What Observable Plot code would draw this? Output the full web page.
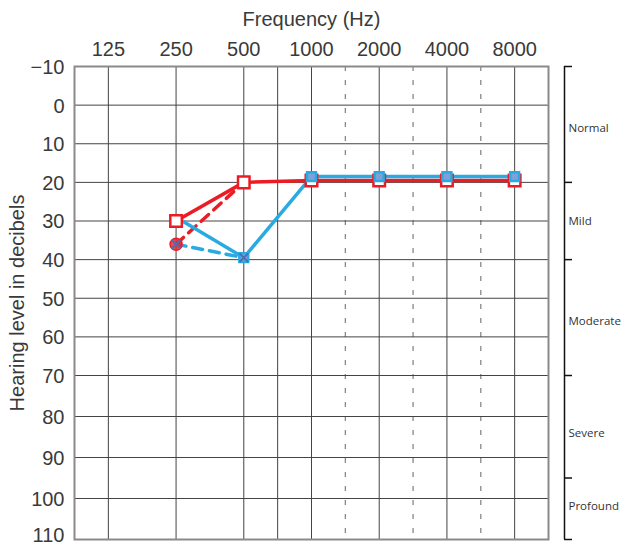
<!DOCTYPE html>
<html><head><meta charset="utf-8">
<script src="https://cdn.jsdelivr.net/npm/d3@7"></script>
<script src="https://cdn.jsdelivr.net/npm/@observablehq/plot@0.6"></script>
<style>body{margin:0;background:#fff}</style>
</head><body><div id="chart"></div>
<script>
// ---- data ----
const octaveFreqs = [125, 250, 500, 1000, 2000, 4000, 8000];
const solidGridFreqs = [125, 250, 500, 750, 1000, 2000, 4000, 8000];
const dashedGridFreqs = [1500, 3000, 6000];
const levelTicks = [-10, 0, 10, 20, 30, 40, 50, 60, 70, 80, 90, 100, 110];

const redSolidFreq = [250, 500, 1000, 2000, 4000, 8000];
const redSolidDb   = [30, 20, 19.5, 19.5, 19.5, 19.5];
const redDashedFreq = [250, 500];
const redDashedDb   = [36, 20];
const blueSolidFreq = [250, 500, 1000, 2000, 4000, 8000];
const blueSolidDb   = [29, 39.5, 18.5, 18.5, 18.5, 18.5];
const blueDashedFreq = [250, 500];
const blueDashedDb   = [36, 39.5];

const bandBounds   = [-10, 20, 40, 70, 95, 110];
const bandNames    = ["Normal", "Mild", "Moderate", "Severe", "Profound"];
const bandLabelDb  = [6, 30, 56, 84, 102];

// ---- helpers ----
const RED = "#ec1c24", BLUE = "#29abe2", XBLUE = "#4a6fb5";
const pos = f => Math.round(2 * Math.log2(f / 125)) / 2; // audiogram half-octave position
const rows = (fs, ds) => fs.map((f, i) => ({f, db: ds[i]}));
const redSolid = rows(redSolidFreq, redSolidDb);
const redDashed = rows(redDashedFreq, redDashedDb);
const blueSolid = rows(blueSolidFreq, blueSolidDb);
const blueDashed = rows(blueDashedFreq, blueDashedDb);
const bands = bandNames.map((name, i) => ({name, db: bandLabelDb[i]}));
const xMax = 6.5;
const fmt = d => d < 0 ? "\u2212" + (-d) : String(d);
const lastTick = levelTicks[levelTicks.length - 1];

const chart = Plot.plot({
  width: 631,
  height: 548,
  marginLeft: 74,
  marginRight: 83,
  marginTop: 66,
  marginBottom: 9,
  style: {fontFamily: "'Liberation Sans', Arial, sans-serif", color: "#3a3a3a", background: "#fff"},
  x: {type: "linear", domain: [-0.5, xMax]},
  y: {type: "linear", domain: [-10, 70, 110], range: [66, 375, 539]},
  marks: [
    Plot.ruleX(solidGridFreqs, {x: pos, stroke: "#444", strokeWidth: 1}),
    Plot.ruleX(dashedGridFreqs, {x: pos, stroke: "#888", strokeWidth: 1.3, strokeDasharray: "5,9"}),
    Plot.ruleY(levelTicks, {stroke: "#444", strokeWidth: 1}),
    Plot.frame({stroke: "#8a8a8a", strokeWidth: 2}),
    Plot.axisX(octaveFreqs.map(pos), {
      anchor: "top", tickSize: 0, tickPadding: 11, fontSize: 20,
      tickFormat: p => String(125 * 2 ** p), label: null
    }),
    Plot.text(["Frequency (Hz)"], {frameAnchor: "top", dy: -55, fontSize: 20, fill: "#3a3a3a"}),
    Plot.axisY(levelTicks.slice(0, -1), {
      anchor: "left", tickSize: 0, tickPadding: 10, fontSize: 20, dy: 1,
      tickFormat: fmt, label: null
    }),
    Plot.axisY([lastTick], {
      anchor: "left", tickSize: 0, tickPadding: 10, fontSize: 20, dy: -4,
      tickFormat: fmt, label: null
    }),
    Plot.text(["Hearing level in decibels"], {frameAnchor: "left", textAnchor: "middle", rotate: -90, dx: -57, fontSize: 20, fill: "#3a3a3a"}),
    // lines
    Plot.line(redDashed, {x: d => pos(d.f), y: "db", stroke: RED, strokeWidth: 3.5, strokeDasharray: "10,7"}),
    Plot.line(blueDashed, {x: d => pos(d.f), y: "db", stroke: BLUE, strokeWidth: 3.5, strokeDasharray: "10,7"}),
    Plot.line(redSolid, {x: d => pos(d.f), y: "db", stroke: RED, strokeWidth: 3.5}),
    Plot.line(blueSolid, {x: d => pos(d.f), y: "db", stroke: BLUE, strokeWidth: 3.5}),
    // markers
    Plot.dot(redDashed.slice(0, 1), {x: d => pos(d.f), y: "db", r: 6, fill: RED, fillOpacity: 0.8, stroke: RED, strokeWidth: 1.5}),
    Plot.dot(redSolid, {x: d => pos(d.f), y: "db", symbol: "square", r: 6.5, fill: "white", stroke: RED, strokeWidth: 2.5}),
    Plot.dot(blueSolid.slice(1), {x: d => pos(d.f), y: "db", symbol: "square", r: 5, fill: "#7fa0d8", stroke: BLUE, strokeWidth: 2.5}),
    Plot.dot(blueDashed, {x: d => pos(d.f), y: "db", symbol: "times", r: 4, stroke: XBLUE, strokeWidth: 2}),
    // hearing loss bracket
    Plot.ruleX([xMax], {y1: bandBounds[0], y2: bandBounds[bandBounds.length - 1], dx: 16, stroke: "#111", strokeWidth: 1.5}),
    Plot.ruleY(bandBounds, {x1: xMax, x2: xMax, dx: 16, insetRight: -8, stroke: "#111", strokeWidth: 1.5}),
    Plot.text(bands, {x: xMax, y: "db", text: "name", dx: 20, textAnchor: "start", fontSize: 11.5,
      fill: "#333", fontFamily: "'Open Sans', 'Noto Sans', sans-serif"})
  ]
});
document.getElementById("chart").appendChild(chart);
</script>
</body></html>
